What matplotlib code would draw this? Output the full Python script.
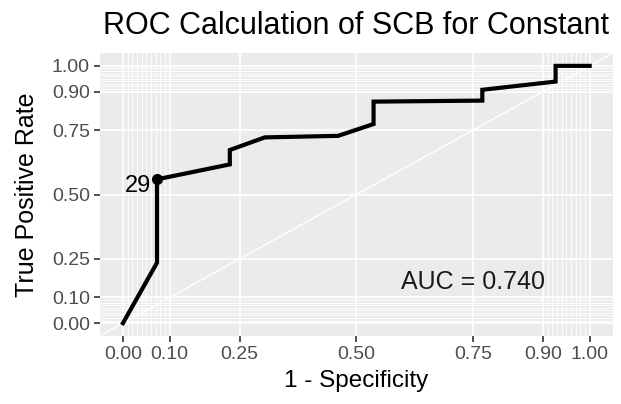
import numpy as np
import matplotlib
matplotlib.use('Agg')
import matplotlib.pyplot as plt

# ROC points
fpr = [0.0, 0.073, 0.073, 0.229, 0.229, 0.304, 0.461, 0.537, 0.537, 0.770, 0.770, 0.927, 0.927, 1.0]
tpr = [0.0, 0.235, 0.559, 0.617, 0.673, 0.722, 0.728, 0.774, 0.861, 0.865, 0.907, 0.939, 1.0, 1.0]
cut_x = 0.073
cut_y = 0.559
cut_label = '29'
auc_text = 'AUC = 0.740'

breaks = [0, 0.1, 0.25, 0.5, 0.75, 0.9, 1.0]
break_labels = ['0.00', '0.10', '0.25', '0.50', '0.75', '0.90', '1.00']
minor = list(np.arange(0.01, 0.1, 0.01)) + list(np.arange(0.91, 1.0, 0.01))

plt.rcParams['font.family'] = ['Liberation Sans', 'DejaVu Sans']

fig = plt.figure(figsize=(6.21, 4.04), dpi=100)
ax = fig.add_axes([0.1604, 0.1683, 0.8267, 0.7005])
ax.set_facecolor('#EBEBEB')
ax.set_xlim(-0.05, 1.05)
ax.set_ylim(-0.05, 1.05)

for v in minor:
    ax.axvline(v, color='white', lw=0.6, zorder=1)
    ax.axhline(v, color='white', lw=0.6, zorder=1)
for v in breaks:
    ax.axvline(v, color='white', lw=1.2, zorder=1)
    ax.axhline(v, color='white', lw=1.2, zorder=1)

# diagonal reference line
ax.plot([-0.05, 1.05], [-0.05, 1.05], color='white', lw=1.0, zorder=2)

ax.plot(fpr, tpr, color='black', lw=3.0, solid_joinstyle='miter', zorder=3)
ax.plot([cut_x], [cut_y], 'o', color='black', ms=7, zorder=4)
ax.annotate(cut_label, (cut_x, cut_y), xytext=(-4, -5), textcoords='offset points',
            ha='right', va='center', fontsize=17, color='black')
ax.text(0.75, 0.16, auc_text, ha='center', va='center', fontsize=18, color='#1A1A1A')

for s in ax.spines.values():
    s.set_visible(False)
ax.set_xticks(breaks)
ax.set_xticklabels(break_labels)
ax.set_yticks(breaks)
ax.set_yticklabels(break_labels)
ax.tick_params(axis='both', length=4, width=1.2, color='#333333', labelcolor='#4D4D4D',
               labelsize=14, pad=3)

ax.set_xlabel('1 - Specificity', fontsize=17.5, color='black', labelpad=5)
ax.set_ylabel('True Positive Rate', fontsize=18, color='black', labelpad=9)
ax.set_title('ROC Calculation of SCB for Constant', fontsize=22, color='black', pad=14)

fig.savefig('out.png', dpi=100)
